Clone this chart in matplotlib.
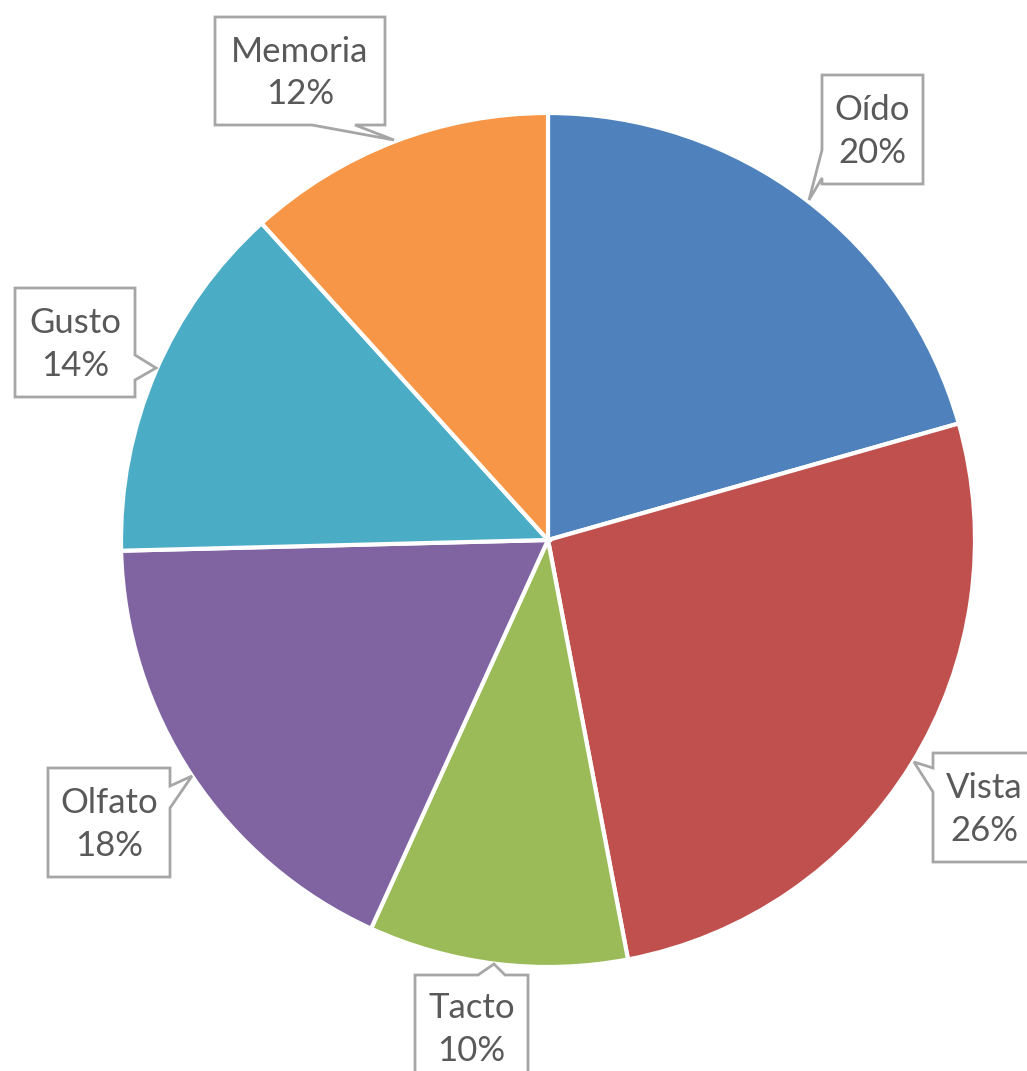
import matplotlib
matplotlib.use('Agg')
import matplotlib.pyplot as plt
from matplotlib.patches import Polygon

# Sentidos (sentido horario desde arriba), tamaño de cada sector y etiqueta.
sentidos = ['Oído', 'Vista', 'Tacto', 'Olfato', 'Gusto', 'Memoria']
valores = [20.6, 26.4, 9.8, 17.8, 13.7, 11.7]
etiquetas = ['20%', '26%', '10%', '18%', '14%', '12%']
colores = ['#4F81BD', '#C0504D', '#9BBB59', '#8064A2', '#4BACC6', '#F79646']

# Callout layout in pixels: box (x0, y0, x1, y1), side, pointer base (a, b), tip.
callouts = {
    'Oído':    ((822, 75, 923, 184), 'left', (150, 178), (809, 200)),
    'Vista':   ((933, 753, 1035, 862), 'left', (768, 792), (914, 762)),
    'Tacto':   ((415, 975, 528, 1080), 'top', (478, 505), (494, 964)),
    'Olfato':  ((48, 768, 170, 877), 'right', (786, 808), (192, 776)),
    'Gusto':   ((15, 288, 135, 397), 'right', (355, 380), (156, 368)),
    'Memoria': ((215, 17, 385, 125), 'bottom', (312, 355), (394, 140)),
}

W, H = 1027, 1071
fig = plt.figure(figsize=(W / 100, H / 100), dpi=100)

cx, cy, r = 548, 540, 427
ax = fig.add_axes([(cx - r) / W, (H - cy - r) / H, 2 * r / W, 2 * r / H])
ax.pie(valores, colors=colores, startangle=90, counterclock=False,
       wedgeprops=dict(edgecolor='white', linewidth=3))
ax.set_xlim(-1, 1)
ax.set_ylim(-1, 1)
ax.axis('off')

# Overlay in pixel coordinates for the callouts.
ov = fig.add_axes([0, 0, 1, 1], zorder=5)
ov.set_xlim(0, W)
ov.set_ylim(H, 0)
ov.axis('off')

def callout_path(box, side, base, tip):
    x0, y0, x1, y1 = box
    a, b = base
    if side == 'left':
        return [(x0, y0), (x1, y0), (x1, y1), (x0, y1), (x0, b), tip, (x0, a)]
    if side == 'right':
        return [(x0, y0), (x1, y0), (x1, a), tip, (x1, b), (x1, y1), (x0, y1)]
    if side == 'top':
        return [(x0, y0), (a, y0), tip, (b, y0), (x1, y0), (x1, y1), (x0, y1)]
    return [(x0, y0), (x1, y0), (x1, y1), (b, y1), tip, (a, y1), (x0, y1)]

for nombre, etq in zip(sentidos, etiquetas):
    box, side, base, tip = callouts[nombre]
    ov.add_patch(Polygon(callout_path(box, side, base, tip), closed=True,
                         facecolor='white', edgecolor='#A6A6A6', linewidth=2))
    x0, y0, x1, y1 = box
    ov.text((x0 + x1) / 2, (y0 + y1) / 2 + 2, '%s\n%s' % (nombre, etq),
            ha='center', va='center', fontsize=25, color='#595959',
            family='Lato', linespacing=1.42)

fig.savefig('out.png', dpi=100, facecolor='white')
